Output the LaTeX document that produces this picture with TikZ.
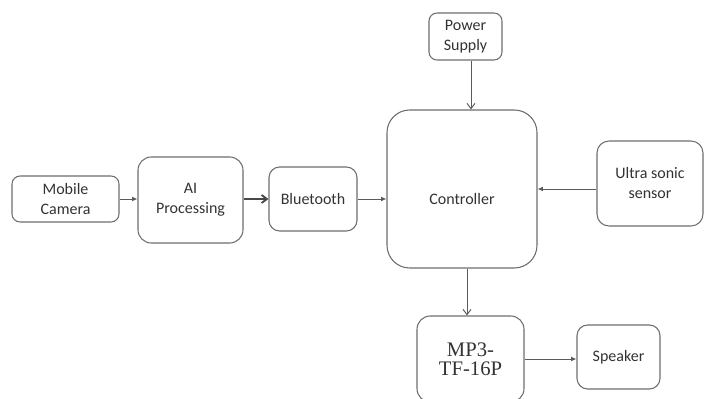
\documentclass[tikz,border=0pt]{standalone}
\usepackage{fontspec}
\setmainfont{Carlito}
\newfontfamily\tnr{Liberation Serif}
\usetikzlibrary{arrows.meta,calc}
\definecolor{boxline}{HTML}{6E6E6E}
\definecolor{txt}{HTML}{333333}
\definecolor{arr}{HTML}{5A5A5A}
\begin{document}
\begin{tikzpicture}[x=0.75pt,y=-0.75pt,
  blk/.style={draw=boxline,line width=0.8pt,inner sep=0pt,align=center,
    text=txt,font=\fontsize{12}{15}\selectfont},
  fa/.style={draw=arr,line width=0.7pt,-{Latex[length=4pt,width=3.5pt]}},
  va/.style={draw=arr,line width=0.7pt,-{Straight Barb[length=4pt,width=6pt]}},
  ta/.style={draw=arr!80!black,line width=1.4pt,-{Straight Barb[length=4pt,width=6pt]}}]
\clip (0,0) rectangle (707,399);
\fill[white] (0,0) rectangle (707,399);
\node[blk,minimum width=80.25pt,minimum height=34.5pt,rounded corners=6pt] (mc) at (65.5,199) {Mobile\\Camera};
\node[blk,minimum width=78.75pt,minimum height=64.5pt,rounded corners=10pt] (ai) at (190.5,200) {AI\\Processing};
\node[blk,minimum width=66pt,minimum height=48pt,rounded corners=8pt] (bt) at (313,199) {Bluetooth};
\node[blk,minimum width=112.5pt,minimum height=118.5pt,rounded corners=17pt] (ct) at (462,189) {};
\node[text=txt,font=\fontsize{12}{15}\selectfont,inner sep=0pt] (ctl) at (462,199) {Controller};
\node[blk,minimum width=54.75pt,minimum height=35.25pt,rounded corners=6pt] (ps) at (465.5,36.5) {Power\\Supply};
\node[blk,minimum width=79.5pt,minimum height=63.75pt,rounded corners=9pt] (us) at (650,183.5) {Ultra sonic\\sensor};
\node[blk,minimum width=80.25pt,minimum height=64.5pt,rounded corners=10pt,
  font=\tnr\fontsize{15.5}{14.6}\selectfont] (mp) at (470.5,359) {MP3-\\TF-16P};
\node[blk,minimum width=62.25pt,minimum height=48pt,rounded corners=8pt] (sp) at (618.5,357) {Speaker};
\draw[fa] (mc.east) -- (ai.west |- mc.east);
\draw[ta] (ai.east |- bt.east) -- (bt.west);
\draw[fa] (bt.east) -- (bt.east -| ct.west);
\draw[va] ($(ps.south)+(5.5,0)$) coordinate (pst) -- (pst |- ct.north);
\draw[fa] (us.west |- ct.east) -- (ct.east);
\coordinate (mpt) at ($(mp.north)+(-3.5,0)$);
\draw[va] (mpt |- ct.south) -- (mpt);
\draw[fa] (mp.east) -- (mp.east -| sp.west);
\end{tikzpicture}
\end{document}
